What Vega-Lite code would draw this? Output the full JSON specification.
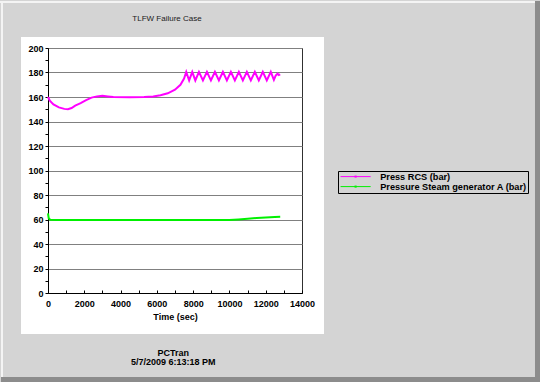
{
  "$schema": "https://vega.github.io/schema/vega-lite/v6.json",
  "width": 254,
  "height": 245,
  "autosize": {"type": "none"},
  "padding": {"left": 48, "top": 48, "right": 238, "bottom": 89},
  "background": "#ffffff",
  "config": {"view": {"stroke": "#303030", "strokeWidth": 1}},
  "resolve": {"axis": {"x": "independent", "y": "independent"}},
  "layer": [
    {
      "data": {"values": [{}]},
      "mark": {"type": "rect", "color": "#d4d4d4"},
      "encoding": {
        "x": {"datum": -3000, "type": "quantitative", "scale": {"domain": [0, 14000], "nice": false}, "axis": null},
        "x2": {"datum": -1488},
        "y": {"datum": -80, "type": "quantitative", "scale": {"domain": [0, 200], "nice": false}, "axis": null},
        "y2": {"datum": 245}
      }
    },
    {
      "data": {"values": [{}]},
      "mark": {"type": "rect", "color": "#d4d4d4"},
      "encoding": {
        "x": {"datum": 15213, "type": "quantitative", "scale": {"domain": [0, 14000], "nice": false}, "axis": null},
        "x2": {"datum": 28000},
        "y": {"datum": -80, "type": "quantitative", "scale": {"domain": [0, 200], "nice": false}, "axis": null},
        "y2": {"datum": 245}
      }
    },
    {
      "data": {"values": [{}]},
      "mark": {"type": "rect", "color": "#d4d4d4"},
      "encoding": {
        "x": {"datum": -1488, "type": "quantitative", "scale": {"domain": [0, 14000], "nice": false}, "axis": null},
        "x2": {"datum": 15213},
        "y": {"datum": 209, "type": "quantitative", "scale": {"domain": [0, 200], "nice": false}, "axis": null},
        "y2": {"datum": 245}
      }
    },
    {
      "data": {"values": [{}]},
      "mark": {"type": "rect", "color": "#d4d4d4"},
      "encoding": {
        "x": {"datum": -1488, "type": "quantitative", "scale": {"domain": [0, 14000], "nice": false}, "axis": null},
        "x2": {"datum": 15213},
        "y": {"datum": -33.5, "type": "quantitative", "scale": {"domain": [0, 200], "nice": false}, "axis": null},
        "y2": {"datum": -80}
      }
    },
    {
      "data": {"values": [{}]},
      "mark": {"type": "rect", "color": "#f4f4f4"},
      "encoding": {
        "x": {"datum": -3000, "type": "quantitative", "scale": {"domain": [0, 14000], "nice": false}, "axis": null},
        "x2": {"datum": 28000},
        "y": {"datum": 236.7, "type": "quantitative", "scale": {"domain": [0, 200], "nice": false}, "axis": null},
        "y2": {"datum": 238.4}
      }
    },
    {
      "data": {"values": [{}]},
      "mark": {"type": "rect", "color": "#f4f4f4"},
      "encoding": {
        "x": {"datum": -2590, "type": "quantitative", "scale": {"domain": [0, 14000], "nice": false}, "axis": null},
        "x2": {"datum": -2480},
        "y": {"datum": -80, "type": "quantitative", "scale": {"domain": [0, 200], "nice": false}, "axis": null},
        "y2": {"datum": 238.4}
      }
    },
    {
      "data": {"values": [{}]},
      "mark": {"type": "rect", "color": "#8c8c8c"},
      "encoding": {
        "x": {"datum": 26842, "type": "quantitative", "scale": {"domain": [0, 14000], "nice": false}, "axis": null},
        "x2": {"datum": 28000},
        "y": {"datum": -80, "type": "quantitative", "scale": {"domain": [0, 200], "nice": false}, "axis": null},
        "y2": {"datum": 238.4}
      }
    },
    {
      "data": {"values": [{}]},
      "mark": {"type": "rect", "color": "#8c8c8c"},
      "encoding": {
        "x": {"datum": -2590, "type": "quantitative", "scale": {"domain": [0, 14000], "nice": false}, "axis": null},
        "x2": {"datum": 28000},
        "y": {"datum": -68.6, "type": "quantitative", "scale": {"domain": [0, 200], "nice": false}, "axis": null},
        "y2": {"datum": -80}
      }
    },
    {
      "data": {"values": [
        {"t": 0, "v": 160, "series": "Press RCS (bar)"},
        {"t": 100, "v": 157, "series": "Press RCS (bar)"},
        {"t": 300, "v": 154, "series": "Press RCS (bar)"},
        {"t": 600, "v": 151.5, "series": "Press RCS (bar)"},
        {"t": 900, "v": 150.3, "series": "Press RCS (bar)"},
        {"t": 1100, "v": 150, "series": "Press RCS (bar)"},
        {"t": 1300, "v": 151, "series": "Press RCS (bar)"},
        {"t": 1500, "v": 153, "series": "Press RCS (bar)"},
        {"t": 1800, "v": 155, "series": "Press RCS (bar)"},
        {"t": 2100, "v": 157.5, "series": "Press RCS (bar)"},
        {"t": 2400, "v": 159.5, "series": "Press RCS (bar)"},
        {"t": 2700, "v": 160.5, "series": "Press RCS (bar)"},
        {"t": 3000, "v": 161, "series": "Press RCS (bar)"},
        {"t": 3300, "v": 160.5, "series": "Press RCS (bar)"},
        {"t": 3600, "v": 160, "series": "Press RCS (bar)"},
        {"t": 4500, "v": 159.8, "series": "Press RCS (bar)"},
        {"t": 5300, "v": 160, "series": "Press RCS (bar)"},
        {"t": 5800, "v": 160.5, "series": "Press RCS (bar)"},
        {"t": 6200, "v": 161.5, "series": "Press RCS (bar)"},
        {"t": 6600, "v": 163, "series": "Press RCS (bar)"},
        {"t": 7000, "v": 166, "series": "Press RCS (bar)"},
        {"t": 7300, "v": 170, "series": "Press RCS (bar)"},
        {"t": 7500, "v": 175, "series": "Press RCS (bar)"},
        {"t": 7620, "v": 180.5, "series": "Press RCS (bar)"},
        {"t": 7780, "v": 173.5, "series": "Press RCS (bar)"},
        {"t": 7950, "v": 180.5, "series": "Press RCS (bar)"},
        {"t": 8120, "v": 173.5, "series": "Press RCS (bar)"},
        {"t": 8320, "v": 180.5, "series": "Press RCS (bar)"},
        {"t": 8540, "v": 173.5, "series": "Press RCS (bar)"},
        {"t": 8760, "v": 180.5, "series": "Press RCS (bar)"},
        {"t": 8980, "v": 173.5, "series": "Press RCS (bar)"},
        {"t": 9200, "v": 180.5, "series": "Press RCS (bar)"},
        {"t": 9420, "v": 173.5, "series": "Press RCS (bar)"},
        {"t": 9640, "v": 180.5, "series": "Press RCS (bar)"},
        {"t": 9860, "v": 173.5, "series": "Press RCS (bar)"},
        {"t": 10080, "v": 180.5, "series": "Press RCS (bar)"},
        {"t": 10300, "v": 173.5, "series": "Press RCS (bar)"},
        {"t": 10520, "v": 180.5, "series": "Press RCS (bar)"},
        {"t": 10740, "v": 173.5, "series": "Press RCS (bar)"},
        {"t": 10960, "v": 180.5, "series": "Press RCS (bar)"},
        {"t": 11180, "v": 173.5, "series": "Press RCS (bar)"},
        {"t": 11400, "v": 180.5, "series": "Press RCS (bar)"},
        {"t": 11620, "v": 173.5, "series": "Press RCS (bar)"},
        {"t": 11840, "v": 180.5, "series": "Press RCS (bar)"},
        {"t": 12060, "v": 173.5, "series": "Press RCS (bar)"},
        {"t": 12280, "v": 180.5, "series": "Press RCS (bar)"},
        {"t": 12450, "v": 174, "series": "Press RCS (bar)"},
        {"t": 12550, "v": 177.5, "series": "Press RCS (bar)"},
        {"t": 12650, "v": 179, "series": "Press RCS (bar)"},
        {"t": 12720, "v": 178, "series": "Press RCS (bar)"},
        {"t": 12800, "v": 178.5, "series": "Press RCS (bar)"},
        {"t": 0, "v": 65, "series": "Pressure Steam generator A (bar)"},
        {"t": 40, "v": 61, "series": "Pressure Steam generator A (bar)"},
        {"t": 120, "v": 59.8, "series": "Pressure Steam generator A (bar)"},
        {"t": 500, "v": 59.6, "series": "Pressure Steam generator A (bar)"},
        {"t": 10000, "v": 59.6, "series": "Pressure Steam generator A (bar)"},
        {"t": 10500, "v": 60.1, "series": "Pressure Steam generator A (bar)"},
        {"t": 11000, "v": 60.6, "series": "Pressure Steam generator A (bar)"},
        {"t": 11500, "v": 61.2, "series": "Pressure Steam generator A (bar)"},
        {"t": 12000, "v": 61.7, "series": "Pressure Steam generator A (bar)"},
        {"t": 12500, "v": 62.1, "series": "Pressure Steam generator A (bar)"},
        {"t": 12800, "v": 62.3, "series": "Pressure Steam generator A (bar)"}
      ]},
      "mark": {"type": "line", "strokeWidth": 2},
      "encoding": {
        "x": {
          "field": "t", "type": "quantitative",
          "scale": {"domain": [0, 14000], "nice": false},
          "axis": {
            "title": "Time (sec)",
            "values": [0, 1000, 2000, 3000, 4000, 5000, 6000, 7000, 8000, 9000, 10000, 11000, 12000, 13000, 14000],
            "labelExpr": "datum.value % 2000 == 0 ? datum.label : ''",
            "format": "d",
            "grid": false,
            "tickSize": -3,
            "tickColor": "black",
            "domainColor": "black",
            "labelPadding": 9,
            "labelFlush": false,
            "labelOverlap": false,
            "labelFont": "Liberation Sans",
            "labelFontSize": 9,
            "labelFontWeight": "bold",
            "labelColor": "black",
            "titleFont": "Liberation Sans",
            "titleFontSize": 9,
            "titleFontWeight": "bold",
            "titleColor": "black",
            "titlePadding": 4
          }
        },
        "y": {
          "field": "v", "type": "quantitative",
          "scale": {"domain": [0, 200], "nice": false},
          "axis": {
            "title": null,
            "values": [0, 10, 20, 30, 40, 50, 60, 70, 80, 90, 100, 110, 120, 130, 140, 150, 160, 170, 180, 190, 200],
            "labelExpr": "datum.value % 20 == 0 ? datum.label : ''",
            "grid": true,
            "gridColor": "#808080",
            "gridOpacity": {"condition": {"test": "datum.value % 20 == 0", "value": 1}, "value": 0},
            "tickSize": 3,
            "tickColor": "black",
            "domainColor": "black",
            "labelPadding": 2,
            "labelOverlap": false,
            "labelFont": "Liberation Sans",
            "labelFontSize": 9,
            "labelFontWeight": "bold",
            "labelColor": "black"
          }
        },
        "color": {
          "field": "series", "type": "nominal",
          "scale": {"domain": ["Press RCS (bar)", "Pressure Steam generator A (bar)"], "range": ["#ff00ff", "#00f000"]},
          "legend": {
            "title": null,
            "orient": "none",
            "legendX": 290,
            "legendY": 123,
            "fillColor": "#d4d4d4",
            "strokeColor": "black",
            "padding": 1,
            "symbolType": "M-4.3,0H4.3M-0.3,-0.15H0.3M-0.3,0.15H0.3",
            "symbolSize": 49,
            "symbolStrokeWidth": 1,
            "symbolOffset": 12,
            "labelOffset": 20,
            "rowPadding": 0,
            "labelFont": "Liberation Sans",
            "labelFontSize": 9.2,
            "labelFontWeight": "bold",
            "labelColor": "black"
          }
        }
      }
    },
    {
      "data": {"values": [{}]},
      "mark": {"type": "text", "text": "TLFW Failure Case", "font": "Liberation Sans", "fontSize": 8, "color": "#202020", "align": "center", "baseline": "middle"},
      "encoding": {
        "x": {"datum": 6559, "type": "quantitative", "scale": {"domain": [0, 14000], "nice": false}, "axis": null},
        "y": {"datum": 223.3, "type": "quantitative", "scale": {"domain": [0, 200], "nice": false}, "axis": null}
      }
    },
    {
      "data": {"values": [{}]},
      "mark": {"type": "text", "text": "PCTran", "font": "Liberation Sans", "fontSize": 9, "fontWeight": "bold", "color": "black", "align": "center", "baseline": "middle"},
      "encoding": {
        "x": {"datum": 6900, "type": "quantitative", "scale": {"domain": [0, 14000], "nice": false}, "axis": null},
        "y": {"datum": -49.2, "type": "quantitative", "scale": {"domain": [0, 200], "nice": false}, "axis": null}
      }
    },
    {
      "data": {"values": [{}]},
      "mark": {"type": "text", "text": "5/7/2009 6:13:18 PM", "font": "Liberation Sans", "fontSize": 9, "fontWeight": "bold", "color": "black", "align": "center", "baseline": "middle"},
      "encoding": {
        "x": {"datum": 6900, "type": "quantitative", "scale": {"domain": [0, 14000], "nice": false}, "axis": null},
        "y": {"datum": -56.3, "type": "quantitative", "scale": {"domain": [0, 200], "nice": false}, "axis": null}
      }
    }
  ]
}
